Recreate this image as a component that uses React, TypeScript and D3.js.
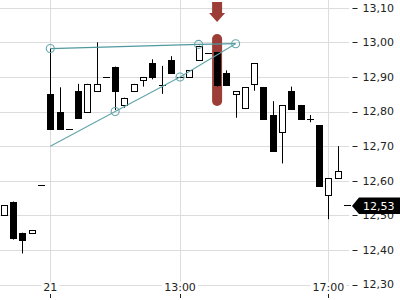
import React from "react";
import * as d3 from "d3";

const W = 400;
const H = 300;

// candle index (15-min bars); 0 = session start of day 21
const idx = [-5, -4, -3, -2, -1, 0, 1, 2, 3, 4, 5, 6, 7, 8, 9, 10, 11, 12, 13, 14, 15, 16, 17, 18, 19, 20, 21, 22, 23, 24, 25, 26, 27, 28, 29, 30, 31, 32];
const opens = [12.5, 12.54, 12.45, 12.448, 12.588, 12.85, 12.8, 12.75, 12.86, 12.8, 12.86, 12.9, 12.93, 12.82, 12.86, 12.89, 12.94, 12.877, 12.95, 12.9, 12.9, 12.95, 12.97, 12.972, 12.91, 12.85, 12.809, 12.879, 12.871, 12.79, 12.74, 12.859, 12.819, 12.778, 12.761, 12.558, 12.607, 12.53];
const highs = [12.53, 12.54, 12.45, 12.457, 12.588, 12.982, 12.87, 12.75, 12.88, 12.88, 13.0, 12.9, 12.93, 12.84, 12.88, 12.9, 12.951, 12.932, 12.96, 12.9, 12.92, 12.99, 12.97, 12.972, 12.919, 12.858, 12.87, 12.939, 12.871, 12.83, 12.818, 12.872, 12.819, 12.79, 12.761, 12.607, 12.7, 12.53];
const lows = [12.5, 12.43, 12.39, 12.448, 12.588, 12.75, 12.75, 12.75, 12.78, 12.8, 12.86, 12.9, 12.804, 12.811, 12.86, 12.872, 12.893, 12.851, 12.91, 12.9, 12.9, 12.95, 12.97, 12.872, 12.877, 12.782, 12.809, 12.86, 12.779, 12.687, 12.65, 12.808, 12.779, 12.769, 12.586, 12.489, 12.607, 12.53];
const closes = [12.53, 12.435, 12.43, 12.457, 12.588, 12.75, 12.75, 12.75, 12.78, 12.88, 12.88, 12.9, 12.86, 12.84, 12.88, 12.9, 12.9, 12.877, 12.91, 12.9, 12.92, 12.99, 12.97, 12.877, 12.877, 12.858, 12.87, 12.939, 12.779, 12.687, 12.818, 12.808, 12.779, 12.778, 12.586, 12.607, 12.627, 12.53];

const yTicks = [12.3, 12.4, 12.5, 12.6, 12.7, 12.8, 12.9, 13.0, 13.1];
const xTickIdx = [0, 14, 30];
const xTickLabels = ["21", "13:00", "17:00"];

// drawing annotations (index, price)
const upperLineIdx = [0, 16, 20];
const upperLineVal = [12.982, 12.994, 12.996];
const lowerLineIdx = [0, 7, 14, 20];
const lowerLineVal = [12.7, 12.8, 12.9, 12.996];
const circleIdx = [0, 16, 20, 7, 14];
const circleVal = [12.982, 12.994, 12.996, 12.8, 12.9];

const highlightIdx = 18;
const highlightTop = 13.024;
const highlightBottom = 12.816;
const lastPrice = 12.53;

const fmt = (v: number) => d3.format(".2f")(v).replace(".", ",");

export default function App() {
  const x = d3.scaleLinear().domain([0, 30]).range([50.3, 328.3]);
  const y = d3.scaleLinear().domain([12.3, 13.1]).range([284.6, 7.7]);
  const plotRight = 349;
  const font = "DejaVu Sans";
  const teal = "#62a5aa";
  const red = "#9d3d37";
  const bw = 6;

  const px = (v: number) => Math.round(v) + 0.5;

  const upperLine = d3.line<number>().x((_, i) => x(upperLineIdx[i])).y((v) => y(v))(upperLineVal) || "";
  const lowerLine = d3.line<number>().x((_, i) => x(lowerLineIdx[i])).y((v) => y(v))(lowerLineVal) || "";

  const hx = x(highlightIdx);
  const ax = hx;
  const tagY = y(lastPrice);

  return (
    <svg width={W} height={H} style={{ position: "fixed", left: 0, top: 0, background: "#fff" }} fontFamily={font}>
      <rect x={0} y={0} width={W} height={H} fill="#fff" />
      {/* horizontal grid */}
      {yTicks.map((t) => (
        <line key={"hg" + t} x1={0} x2={plotRight} y1={px(y(t))} y2={px(y(t))} stroke="#dcdcdc" strokeWidth={1} />
      ))}
      {/* vertical grid */}
      {xTickIdx.map((t) => (
        <line key={"vg" + t} x1={px(x(t))} x2={px(x(t))} y1={0} y2={282} stroke="#dcdcdc" strokeWidth={1} />
      ))}
      {/* highlight bar */}
      <rect x={hx - 5} y={y(highlightTop)} width={10} height={y(highlightBottom) - y(highlightTop)} rx={5} fill={red} />
      {/* arrow */}
      <path d={`M${ax - 5},2 L${ax + 5},2 L${ax + 5},13 L${ax + 8},13 L${ax},22 L${ax - 8},13 L${ax - 5},13 Z`} fill={red} />
      {/* candles */}
      {idx.map((k, i) => {
        const cx = px(x(k));
        const o = opens[i], c = closes[i], h = highs[i], l = lows[i];
        const top = y(Math.max(o, c));
        const bot = y(Math.min(o, c));
        const up = c > o;
        const flat = Math.abs(c - o) < 1e-9;
        return (
          <g key={"c" + k}>
            {h !== l && <line x1={cx} x2={cx} y1={y(h)} y2={y(l)} stroke="#000" strokeWidth={1} />}
            {flat ? (
              <line x1={cx - 3.5} x2={cx + 3.5} y1={px(top)} y2={px(top)} stroke="#000" strokeWidth={1} />
            ) : (
              <rect x={cx - bw / 2} y={Math.round(top) + 0.5} width={bw} height={Math.max(1, Math.round(bot) - Math.round(top))} fill={up ? "#fff" : "#000"} stroke="#000" strokeWidth={1} />
            )}
          </g>
        );
      })}
      {/* trend drawings */}
      <path d={upperLine} fill="none" stroke="#4f999e" strokeWidth={1.3} />
      <path d={lowerLine} fill="none" stroke={teal} strokeWidth={1.1} />
      {circleIdx.map((k, i) => (
        <circle key={"ci" + i} cx={x(k)} cy={y(circleVal[i])} r={4} fill="none" stroke={teal} strokeWidth={1.1} />
      ))}
      {/* y axis */}
      {yTicks.map((t) => (
        <g key={"yt" + t}>
          <line x1={352.5} x2={357.5} y1={px(y(t))} y2={px(y(t))} stroke="#222" strokeWidth={1} />
          <text x={362.5} y={y(t)} dy="0.35em" fontSize={11} fill="#222">{fmt(t)}</text>
        </g>
      ))}
      {/* last price tag */}
      <path d={`M352,${tagY + 1} L359,${tagY - 7.5} L400,${tagY - 7.5} L400,${tagY + 9} L359,${tagY + 9} Z`} fill="#000" />
      <text x={363} y={tagY + 1} dy="0.35em" fontSize={11} fill="#fff">{fmt(lastPrice)}</text>
      {/* x axis */}
      {xTickIdx.map((t, i) => {
        const lx = x(t);
        const tw = xTickLabels[i].length * 7 - (xTickLabels[i].includes(":") ? 3 : 0);
        return (
          <g key={"xt" + t}>
            <rect x={lx - tw / 2 - 2} y={282} width={tw + 4} height={11} fill="#fff" />
            <text x={lx} y={291} textAnchor="middle" fontSize={11} fill="#222">{xTickLabels[i]}</text>
            <line x1={px(lx)} x2={px(lx)} y1={294} y2={298} stroke="#222" strokeWidth={1} />
          </g>
        );
      })}
    </svg>
  );
}
